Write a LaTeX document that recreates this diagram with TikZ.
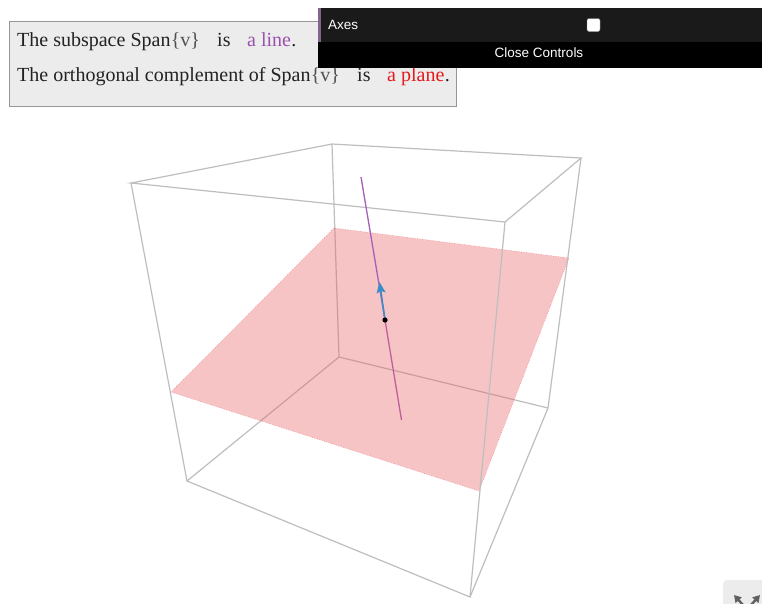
\documentclass[tikz,border=0pt]{standalone}
\usepackage{fontspec}
\setmainfont{Liberation Serif}
\newfontfamily\uifont{Liberation Sans}
\usetikzlibrary{arrows.meta}
\definecolor{edgegray}{RGB}{190,190,190}
\definecolor{planefill}{RGB}{232,100,105}
\definecolor{planeedge}{RGB}{240,60,70}
\definecolor{linepurple}{RGB}{165,95,185}
\definecolor{vecblue}{RGB}{60,140,200}
\definecolor{txtpurple}{RGB}{155,80,175}
\definecolor{txtred}{RGB}{228,26,28}
\definecolor{panelbg}{RGB}{26,26,26}
\definecolor{panelpurple}{RGB}{130,100,140}
\definecolor{boxbg}{RGB}{236,236,236}
\definecolor{boxline}{RGB}{150,150,150}
\tikzset{
  cubeedge/.style={draw=edgegray, line width=1.2pt},
  txt/.style={inner sep=0pt, anchor=base west, font=\fontsize{20}{24}\selectfont, text={rgb,255:red,34;green,34;blue,34}},
  brace/.style={txt, text={rgb,255:red,80;green,80;blue,80}},
  uitxt/.style={inner sep=0pt, text=white, font=\uifont\fontsize{13.5}{15}\selectfont},
}
\begin{document}
\begin{tikzpicture}[x=1pt,y=-1pt]
\useasboundingbox (0,0) rectangle (762,603);
\fill[white] (0,0) rectangle (762,603);
% cube vertices
\coordinate (A) at (131,183);
\coordinate (B) at (332,144);
\coordinate (C) at (581,158);
\coordinate (D) at (505,222);
\coordinate (E) at (187,481);
\coordinate (F) at (339,357);
\coordinate (G) at (548,408);
\coordinate (H) at (470,597);
% plane corners
\coordinate (P1) at (171,392);
\coordinate (P2) at (334,228);
\coordinate (P3) at (569,258);
\coordinate (P4) at (479,491);
% line
\coordinate (Ltop) at (361,177);
\coordinate (Lbot) at (401.5,420);
\coordinate (O) at (385,320);
\coordinate (Vtip) at (379.5,282);
% back edges
\draw[cubeedge] (B) -- (F) (E) -- (F) -- (G);
\draw[line width=1.3pt, linepurple] (O) -- (Lbot);
% plane
\fill[planefill, fill opacity=0.38] (P1) -- (P2) -- (P3) -- (P4) -- cycle;
\draw[planeedge, line width=0.5pt, dotted, opacity=0.7] (P1) -- (P2) -- (P3) -- (P4) -- cycle;
% other edges
\draw[cubeedge] (A) -- (B) -- (C) -- (D) -- cycle;
\draw[cubeedge] (A) -- (E) -- (H) -- (G) -- (C);
\draw[cubeedge] (D) -- (H);
% line upper
\draw[line width=1.3pt, linepurple] (Ltop) -- (O);
\draw[line width=1.6pt, vecblue, -{Stealth[length=11pt,width=9pt,inset=2pt]}] (O) -- (Vtip);
\fill[black] (O) circle (2.6);
% text box
\node[draw=boxline, fill=boxbg, line width=0.8pt, minimum width=447pt, minimum height=85pt, inner sep=0pt, anchor=north west] (tbox) at (9,21) {};
\node[txt] (s1) at (17,46.7) {The subspace Span};
\node[brace] (v1) at (s1.base east) {\{v\}};
\node[txt] (is1) at (217,46.7) {is};
\node[txt, text=txtpurple] (al) at (247,46.7) {a line};
\node[txt] (d1) at (al.base east) {.};
\node[txt] (s2) at (17,81.7) {The orthogonal complement of Span};
\node[brace] (v2) at (s2.base east) {\{v\}};
\node[txt] (is2) at (357,81.7) {is};
\node[txt, text=txtred] (ap) at (387,81.7) {a plane};
\node[txt] (d2) at (ap.base east) {.};
% controls panel
\fill[panelbg] (318,8) rectangle (762,42);
\fill[panelpurple] (318,8) rectangle (321,42);
\fill[black] (318,42) rectangle (762,68);
\node[uitxt, anchor=base west] (axes) at (328,29) {Axes};
\node[draw=gray, fill=white, rounded corners=2pt, minimum size=13pt, inner sep=0pt] (chk) at (593.5,25) {};
\node[uitxt, anchor=base] (close) at (539,57.3) {Close Controls};
% fullscreen button
\begin{scope}
\clip (0,0) rectangle (762,603);
\fill[boxbg, rounded corners=4pt] (723,580) rectangle (775,615);
\draw[line width=2.4pt, gray!75!black, -{Triangle[length=7pt,width=8pt]}] (743,605) -- (734,595);
\draw[line width=2.4pt, gray!75!black, -{Triangle[length=7pt,width=8pt]}] (751,605) -- (760,595);
\end{scope}
\end{tikzpicture}
\end{document}
